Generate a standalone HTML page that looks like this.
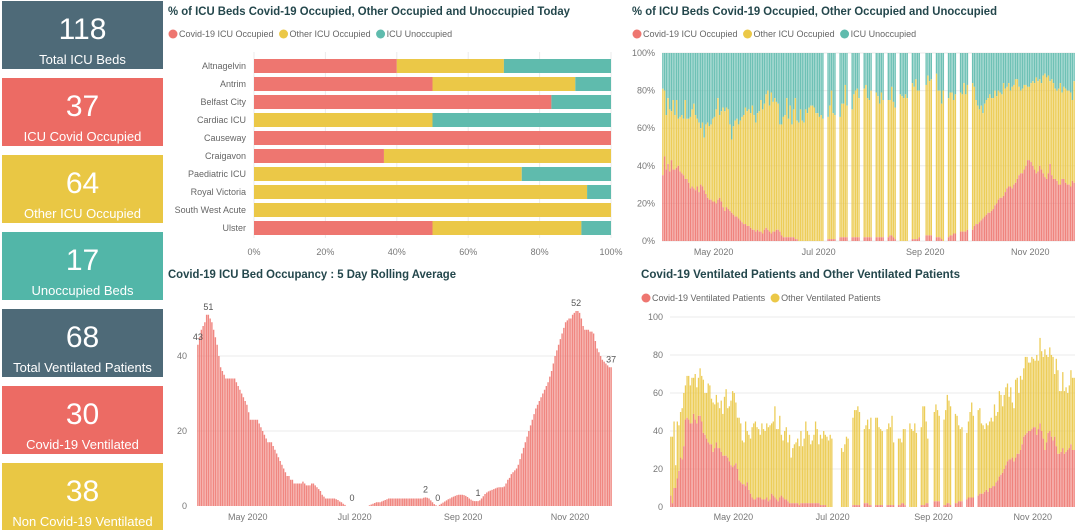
<!DOCTYPE html>
<html><head><meta charset="utf-8">
<style>
html,body{margin:0;padding:0;background:#fff;width:1080px;height:530px;overflow:hidden;font-family:"Liberation Sans","DejaVu Sans",sans-serif;}
svg text{font-family:"Liberation Sans","DejaVu Sans",sans-serif;}
</style></head>
<body>
<svg id="dash" width="1080" height="530" viewBox="0 0 1080 530" xmlns="http://www.w3.org/2000/svg">
<g id="cards"></g>
<g id="tl">
<text x="168" y="15" font-size="12" font-weight="bold" fill="#24474C" textLength="402" lengthAdjust="spacingAndGlyphs">% of ICU Beds Covid-19 Occupied, Other Occupied and Unoccupied Today</text>
</g>
<g id="tr">
<text x="632" y="15" font-size="12" font-weight="bold" fill="#24474C" textLength="365" lengthAdjust="spacingAndGlyphs">% of ICU Beds Covid-19 Occupied, Other Occupied and Unoccupied</text>
</g>
<g id="bl">
<text x="168" y="278" font-size="12" font-weight="bold" fill="#24474C" textLength="288" lengthAdjust="spacingAndGlyphs">Covid-19 ICU Bed Occupancy : 5 Day Rolling Average</text>
</g>
<g id="br">
<text x="641" y="278" font-size="12" font-weight="bold" fill="#24474C" textLength="319" lengthAdjust="spacingAndGlyphs">Covid-19 Ventilated Patients and Other Ventilated Patients</text>
</g>
</svg>
<script>
// ---- KPI data ----
const cardValues=["118","37","64","17","68","30","38"];
const cardLabels=["Total ICU Beds","ICU Covid Occupied","Other ICU Occupied","Unoccupied Beds","Total Ventilated Patients","Covid-19 Ventilated","Non Covid-19 Ventilated"];
// ---- Today chart data ----
const tlCategories=["Altnagelvin","Antrim","Belfast City","Cardiac ICU","Causeway","Craigavon","Paediatric ICU","Royal Victoria","South West Acute","Ulster"];
const tlCovid=[40,50,83.3,0,100,36.4,0,0,0,50];
const tlOther=[30,40,0,50,0,63.6,75,93.3,100,41.7];
const tlUnocc=[30,10,16.7,50,0,0,25,6.7,0,8.3];
const pctTicks=[0,20,40,60,80,100];
// ---- History % chart (from 2020-04-01) ----
const trCovidPct=[35,45,38,41,37,43,38,38,39,40,37,36,35,33,33,31,28,29,28,27,29,26,30,29,27,25,23,22,22,21,21,20,22,23,21,18,16,18,17,16,15,14,13,13,12,11,10,9,9,8,8,7,6,6,5,6,5,5,4,6,7,6,5,4,5,5,6,6,5,3,2,2,2,2,2,2,2,1,1,0,0,0,0,0,0,0,0,0,0,0,0,
0,0,0,null,null,
1,1,1,1,1,null,null,2,2,2,2,2,null,null,2,2,2,2,2,null,null,2,2,2,2,2,null,null,2,2,2,2,2,null,null,2,3,3,2,1,null,null,0,0,0,0,0,null,null,1,1,1,1,2,null,null,null,3,3,3,3,null,null,2,2,2,1,0,null,null,2,3,3,4,4,null,null,5,5,5,5,6,null,null,
6,8,9,9,10,11,12,13,14,15,15,16,17,19,20,22,23,23,24,26,28,29,29,28,30,31,33,35,36,36,38,40,43,43,42,40,38,36,37,40,38,36,34,33,36,41,35,33,33,32,30,30,33,33,31,30,30,29,32,31];
const trOccupiedPct=[81,80,67,76,70,69,75,67,75,65,66,67,65,75,65,65,66,70,73,67,65,63,60,63,55,62,63,61,62,65,66,70,76,67,69,71,69,71,70,62,54,61,64,65,62,64,66,67,71,69,70,68,72,67,63,68,69,75,70,73,78,80,72,79,74,76,74,73,62,62,66,67,76,65,72,62,70,76,64,63,70,64,63,70,68,71,72,72,71,68,68,
66,67,65,null,null,
66,72,80,68,67,null,null,66,73,73,83,72,null,null,70,78,80,81,76,null,null,81,83,76,75,80,null,null,79,77,73,79,75,null,null,75,75,82,74,71,null,null,78,77,76,78,76,null,null,84,82,86,80,80,null,null,null,83,88,85,86,null,null,89,80,80,73,80,null,null,76,79,79,75,78,null,null,79,78,84,78,83,null,null,
84,82,75,72,70,72,68,73,75,76,78,76,76,80,77,80,79,78,84,81,82,84,80,82,83,86,86,82,80,81,83,83,82,82,84,85,84,87,85,86,84,88,89,87,88,85,86,84,81,80,81,84,79,82,81,80,80,79,75,85];
const monthTickLabels=["May 2020","Jul 2020","Sep 2020","Nov 2020"];
const monthTickDates=["2020-05-01","2020-07-01","2020-09-01","2020-11-01"];
// ---- Rolling average (from 2020-04-02) ----
const blRolling=[43,45,47,48,49,51,51,50,49,47,45,43,40,37,36,35,34,34,34,34,34,34,33,32,31,30,29,28,27,25,23,23,23,23,23,22,21,20,19,18,17,17,17,16,15,14,13,12,11,10,9,8,8,7,7,6,6,6,6,6,6.5,6,5.5,5.5,5.5,6,6,5.5,5,4.5,4,3,2.5,2,2,2,2,2,2,1.8,1.6,1.2,1,0.6,0.3,0,0,0,0,0,0,0,0,0,0,0,0,0,0.2,0.4,0.6,0.8,1,1,1,1.2,1.4,1.6,1.8,2,2,2,2,2,2,2,2,2,2,2,2,2,2,2,2,2,2,2,2,2.2,2.3,2.2,2,1.5,1,0.5,0.2,0,0.3,0.6,0.9,1.2,1.5,1.8,2,2.3,2.5,2.7,2.9,3,3,3,2.9,2.7,2.4,2,1.7,1.4,1.3,1.3,1.3,1.5,2,2.6,3.2,3.6,3.9,4.1,4.3,4.5,4.7,4.9,5,5,5,5.2,6,7,7.5,8.5,9,9.5,10,11,12.5,14,15.5,17,18.5,20,21.5,23,24.5,26,27,28,29,30,31,32,33,34.5,36,38,40,41.5,43,44.5,46,47.5,49,49.5,50,50,51,51.5,52,52,51.5,50,48,47,47,47,46.5,46.5,46,44,42,41,40,39,38.5,38,37.5,37,37];
const blLabelIdx=[0,6,88,130,137,160,216,236];
const blTicks=[0,20,40];
// ---- Ventilated (from 2020-03-23) ----
const brCovid=[6,2,10,10,15,19,26,25,32,46,47,46,44,44,49,46,44,48,48,45,39,38,36,34,33,33,29,31,34,31,31,29,27,27,27,26,24,22,21,22,23,20,14,13,12,12,11,13,9,7,5,4,4,5,5,5,4,4,4,5,3,4,7,6,5,4,3,5,6,5,4,4,3,2,2,2,2,2,2,1,2,2,2,2,2,2,2,2,2,2,2,2,1,1,1,1,0,0,0,0,
null,null,null,null,null,
0,0,0,0,0,null,null,1,1,1,1,1,null,null,2,2,2,1,1,null,null,1,1,1,1,1,null,null,1,1,1,1,1,null,null,1,1,2,2,1,null,null,0,0,0,0,0,null,null,1,1,1,2,2,null,null,null,3,3,3,3,null,null,1,1,2,2,1,null,null,2,2,3,3,3,null,null,4,5,5,5,5,null,null,
6,7,7,7,8,9,8,10,10,11,11,13,14,16,17,18,20,22,24,25,25,26,24,26,28,28,30,33,37,38,39,40,40,41,42,42,38,41,44,40,36,30,34,39,40,37,35,37,32,28,28,29,31,28,29,30,31,33,30,30];
const brTotal=[37,37,45,22,45,43,50,52,60,64,69,69,64,68,68,70,63,68,73,69,67,60,60,65,64,57,55,54,59,55,52,56,49,58,62,52,53,56,61,60,55,47,47,44,35,34,45,40,38,36,42,44,45,42,41,38,44,41,40,44,42,43,44,45,53,41,41,48,38,35,40,42,34,38,26,31,33,34,36,32,40,32,36,45,40,38,33,35,38,45,41,33,38,36,40,38,37,35,38,36,
null,null,null,null,null,
31,29,33,37,36,null,null,47,51,51,53,50,null,null,41,43,46,41,47,null,null,47,47,42,41,40,null,null,41,44,42,48,34,null,null,36,36,34,41,41,null,null,44,41,40,44,39,null,null,42,53,53,45,36,null,null,null,50,54,51,48,null,null,46,51,59,56,53,null,null,49,48,43,41,42,null,null,39,45,50,55,48,null,null,
51,52,44,43,41,44,43,45,47,45,54,48,50,61,59,53,59,63,65,58,63,55,52,67,68,60,69,67,73,79,79,76,76,79,78,77,80,77,89,82,79,83,80,79,84,80,79,70,78,72,61,61,71,61,63,60,64,72,68,68];
const brTicks=[0,20,40,60,80,100];

const RED="#EE7670",YEL="#EBC847",TEAL="#5FBBAD",GRID="#EBEBEB",AX="#777";
const NS="http://www.w3.org/2000/svg";
function mk(parent,tag,attrs,text){const e=document.createElementNS(NS,tag);for(const k in attrs)e.setAttribute(k,attrs[k]);if(text!==undefined)e.textContent=text;parent.appendChild(e);return e;}
function dayDiff(a,b){return Math.round((Date.parse(b)-Date.parse(a))/86400000);}

// KPI cards
const cardColors=["#4E6A78","#EC6B64","#E9C744","#52B6A8","#4E6A78","#EC6B64","#E9C744"];
const cg=document.getElementById('cards');
cardValues.forEach((v,i)=>{
  const y=1+77*i;
  const g=mk(cg,'g',{});
  
  
  mk(g,'rect',{x:2,y:y,width:161,height:68,fill:cardColors[i]});
  const t1=mk(g,'text',{x:82.5,y:y+38,'font-size':30,fill:'#fff','text-anchor':'middle'},v);
  
  
  const t2=mk(g,'text',{x:82.5,y:y+63,'font-size':13,fill:'#fff','text-anchor':'middle'},cardLabels[i]);
  
  
});

function legend(parent,x,y,items){
  let cx=x;
  items.forEach(it=>{
    const g=mk(parent,'g',{});
    
    
    mk(g,'circle',{cx:cx+5,cy:y-3,r:4.5,fill:it[1]});
    const t=mk(g,'text',{x:cx+11,y:y,'font-size':9,fill:'#666'},it[0]);
    cx+=11+t.getComputedTextLength()+5;
  });
}

// ---- Today chart ----
(function(){
  const p=document.getElementById('tl');
  legend(p,168,37,[["Covid-19 ICU Occupied",RED],["Other ICU Occupied",YEL],["ICU Unoccupied",TEAL]]);
  const x0=254,x1=611,xs=v=>x0+(x1-x0)*v/100;
  pctTicks.forEach(t=>{
    mk(p,'line',{x1:xs(t),x2:xs(t),y1:52,y2:238,stroke:GRID,'stroke-width':1});
    const l=mk(p,'text',{x:xs(t),y:255,'font-size':9,fill:AX,'text-anchor':'middle'},t+'%');
    
    
  });
  tlCategories.forEach((c,i)=>{
    const cy=66+18*i;
    const l=mk(p,'text',{x:246,y:cy+3,'font-size':9,fill:'#666','text-anchor':'end'},c);
    
    
    let acc=0;
    [[tlCovid[i],RED,'covid'],[tlOther[i],YEL,'other'],[tlUnocc[i],TEAL,'unoccupied']].forEach(s=>{
      if(s[0]>0){
        const r=mk(p,'rect',{x:xs(acc),y:cy-7,width:xs(acc+s[0])-xs(acc),height:14,fill:s[1]});
        
        
      }
      acc+=s[0];
    });
  });
})();

function monthTicks(p,start,x0,step,y){
  monthTickLabels.forEach((m,i)=>{
    const d=dayDiff(start,monthTickDates[i]);
    const l=mk(p,'text',{x:x0+step*d,y:y,'font-size':9,fill:AX,'text-anchor':'middle'},m);
    
    
  });
}

// ---- History % chart ----
(function(){
  const p=document.getElementById('tr');
  legend(p,632,37,[["Covid-19 ICU Occupied",RED],["Other ICU Occupied",YEL],["ICU Unoccupied",TEAL]]);
  const x0=662,x1=1075,yb=241,yt=53,N=trCovidPct.length,st=(x1-x0)/N;
  const ys=v=>yb-(yb-yt)*v/100;
  pctTicks.forEach(t=>{
    mk(p,'line',{x1:x0,x2:x1,y1:ys(t),y2:ys(t),stroke:GRID});
    const l=mk(p,'text',{x:655,y:ys(t)+3,'font-size':9,fill:AX,'text-anchor':'end'},t+'%');
    
    
  });
  for(let i=0;i<N;i++){
    if(trCovidPct[i]===null)continue;
    const x=x0+st*i+st*0.1,w=st*0.8;
    const c=trCovidPct[i],o=trOccupiedPct[i];
    const g=mk(p,'g',{opacity:0.9});
    
    
    mk(g,'rect',{x:x,y:ys(100),width:w,height:ys(o)-ys(100),fill:TEAL});
    mk(g,'rect',{x:x,y:ys(o),width:w,height:ys(c)-ys(o),fill:YEL});
    mk(g,'rect',{x:x,y:ys(c),width:w,height:yb-ys(c),fill:RED});
  }
  monthTicks(p,"2020-04-01",x0,st,255);
})();

// ---- Rolling average ----
(function(){
  const p=document.getElementById('bl');
  const x0=197,x1=612,yb=506,N=blRolling.length,st=(x1-x0)/N;
  const ys=v=>yb-3.75*v;
  blTicks.forEach(t=>{
    if(t>0)mk(p,'line',{x1:x0,x2:x1,y1:ys(t),y2:ys(t),stroke:GRID});
    const l=mk(p,'text',{x:187,y:ys(t)+3,'font-size':9,fill:AX,'text-anchor':'end'},t);
    
    
  });
  for(let i=0;i<N;i++){
    const v=blRolling[i];
    const r=mk(p,'rect',{x:x0+st*i+st*0.1,y:ys(v),width:st*0.8,height:yb-ys(v),fill:RED,opacity:0.88});
    
    
  }
  blLabelIdx.forEach(i=>{
    const l=mk(p,'text',{x:x0+st*(i+0.5),y:ys(blRolling[i])-5,'font-size':9,fill:'#555','text-anchor':'middle'},Math.round(blRolling[i]));
    
    
  });
  monthTicks(p,"2020-04-02",x0,st,520);
})();

// ---- Ventilated ----
(function(){
  const p=document.getElementById('br');
  legend(p,641,301,[["Covid-19 Ventilated Patients",RED],["Other Ventilated Patients",YEL]]);
  const x0=670,x1=1075,yb=507,yt=317,N=brTotal.length,st=(x1-x0)/N;
  const ys=v=>yb-(yb-yt)*v/100;
  brTicks.forEach(t=>{
    if(t>0)mk(p,'line',{x1:x0,x2:x1,y1:ys(t),y2:ys(t),stroke:GRID});
    const l=mk(p,'text',{x:663,y:ys(t)+3,'font-size':9,fill:AX,'text-anchor':'end'},t);
    
    
  });
  for(let i=0;i<N;i++){
    if(brTotal[i]===null)continue;
    const x=x0+st*i+st*0.1,w=st*0.8;
    const g=mk(p,'g',{opacity:0.9});
    
    
    mk(g,'rect',{x:x,y:ys(brTotal[i]),width:w,height:ys(brCovid[i])-ys(brTotal[i]),fill:YEL});
    mk(g,'rect',{x:x,y:ys(brCovid[i]),width:w,height:yb-ys(brCovid[i]),fill:RED});
  }
  monthTicks(p,"2020-03-23",x0,st,520);
})();
</script>
</body></html>
